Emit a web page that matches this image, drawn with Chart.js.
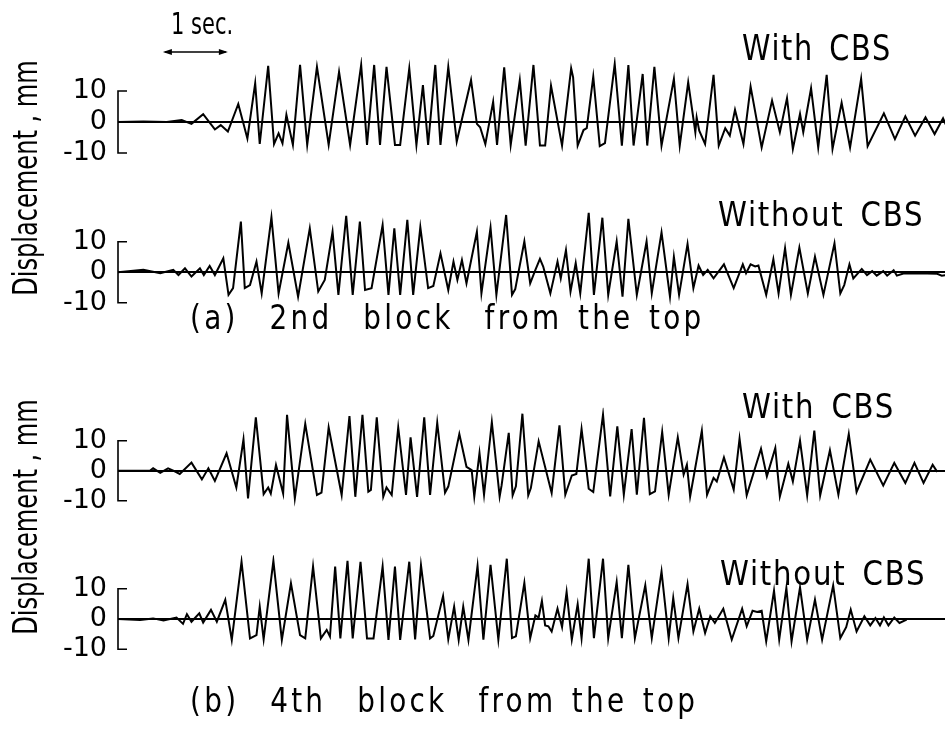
<!DOCTYPE html>
<html>
<head>
<meta charset="utf-8">
<script src="https://cdn.jsdelivr.net/npm/chart.js@4.4.1/dist/chart.umd.min.js"></script>
<style>
 body { margin: 0; background: #fff; }
 #wrap { position: relative; width: 947px; height: 738px; overflow: hidden; background: #fff; }
 #wrap canvas { position: absolute; left: 0; top: 0; }
 .txt {
  position: absolute;
  font-family: "DejaVu Sans", sans-serif;
  color: #000;
  white-space: pre;
  line-height: 1;
  z-index: 5;
  transform-origin: left top;
 }
 .ylab { transform-origin: 50% 50%; transform: translate(-50%, -50%) rotate(-90deg) scaleX(0.73); font-size: 33px; }
 .sec { font-size: 30px; transform: scaleX(0.7); }
 .tag { font-size: 34px; letter-spacing: 2px; word-spacing: 6px; transform: scaleX(0.86); }
 .tag.big { font-size: 36px; transform: scaleX(0.8); }
 .cap { font-size: 34px; letter-spacing: 4px; word-spacing: 4px; transform: scaleX(0.82); }
</style>
</head>
<body>
<div id="wrap">
 <canvas id="c1" width="947" height="738"></canvas>
 <canvas id="c2" width="947" height="738"></canvas>
 <canvas id="c3" width="947" height="738"></canvas>
 <canvas id="c4" width="947" height="738"></canvas>

 <div class="txt sec" style="left:171px; top:9px;">1 sec.</div>
 <div class="txt tag big" style="left:742px; top:30px;">With CBS</div>
 <div class="txt tag" style="left:718px; top:197px;">Without CBS</div>
 <div class="txt tag" style="left:742px; top:389px;">With CBS</div>
 <div class="txt tag" style="left:720px; top:556px;">Without CBS</div>
 <div class="txt cap" style="left:190px; top:300px;">(a)  2nd  block  from the top</div>
 <div class="txt cap" style="left:190px; top:683px;">(b)  4th  block  from the top</div>
 <div class="txt ylab" style="left:25px; top:178px;">Displacement , mm</div>
 <div class="txt ylab" style="left:25px; top:517px;">Displacement , mm</div>
</div>

<script>
// ---- data: time (s) and displacement (mm) ----

// (a) 2nd block, with CBS
var timeA1 = [0, 0.39, 0.75, 0.98, 1.13, 1.31, 1.49, 1.58, 1.69, 1.85, 1.99, 2.11, 2.18, 2.31, 2.40, 2.47, 2.53, 2.59, 2.69, 2.80,
 2.91, 3.06, 3.24, 3.40, 3.57, 3.74, 3.83, 3.94, 4.03, 4.13, 4.26, 4.34, 4.48, 4.59, 4.69, 4.77, 4.88, 4.96, 5.08, 5.21,
 5.43, 5.52, 5.57, 5.65, 5.77, 5.83, 5.94, 6.04, 6.18, 6.27, 6.39, 6.49, 6.57, 6.66, 6.83, 6.97, 7.00, 7.07, 7.16, 7.21,
 7.31, 7.41, 7.49, 7.64, 7.75, 7.85, 7.93, 8.07, 8.14, 8.25, 8.36, 8.55, 8.64, 8.77, 8.88, 8.90, 8.94, 9.03, 9.16, 9.24,
 9.34, 9.41, 9.49, 9.62, 9.73, 9.90, 10.06, 10.18, 10.29, 10.38, 10.49, 10.54, 10.66, 10.77, 10.90, 10.99, 11.13, 11.26, 11.43, 11.53,
 11.78, 11.95, 12.11, 12.26, 12.42, 12.56, 12.69, 12.75];
var dispA1 = [0, 0.2, 0, 0.6, -0.6, 2.5, -2.4, -1.0, -3.1, 5.8, -5.3, 12.5, -7.1, 18.1, -7.1, -3.7, -6.9, 2.3, -7.4, 18.4,
 -7.4, 17.8, -7.4, 16.2, -7.4, 18.4, -7.4, 18.4, -7.4, 17.8, -7.4, -7.4, 17.3, -7.4, 11.9, -7.4, 18.4, -7.4, 17.8, -6.3,
 13.5, -0.6, -1.7, -7.1, 6.5, -7.4, 17.6, -7.4, 13.5, -7.6, 18.4, -7.6, -7.6, 11.7, -7.6, 17.3, 14.4, -7.6, -2.6, -2.0,
 14.6, -7.8, -6.8, 18.7, -7.6, 18.4, -7.6, 15.5, -7.6, 17.8, -7.6, 13.9, -7.6, 12.8, -3.3, 1.5, -2.8, -7.1, 15.2, -7.6,
 -2.0, -4.4, 3.9, -7.1, 11.4, -8.2, 6.9, -3.3, 7.7, -8.7, 2.6, -3.3, 10.9, -8.2, 15.2, -8.7, 6.2, -8.2, 13.9, -7.8,
 2.8, -5.5, 1.8, -4.4, 1.5, -3.9, 1.2, -1.7];

// (a) 2nd block, without CBS
var timeA2 = [0, 0.39, 0.65, 0.85, 0.93, 1.03, 1.13, 1.26, 1.32, 1.41, 1.49, 1.62, 1.70, 1.77, 1.89, 1.95, 2.03, 2.13, 2.21, 2.36,
 2.47, 2.62, 2.77, 2.95, 3.08, 3.18, 3.30, 3.39, 3.51, 3.61, 3.72, 3.80, 3.90, 4.07, 4.16, 4.25, 4.34, 4.45, 4.54, 4.65,
 4.77, 4.85, 4.96, 5.08, 5.16, 5.22, 5.29, 5.36, 5.52, 5.59, 5.73, 5.82, 5.97, 6.06, 6.11, 6.25, 6.34, 6.42, 6.49, 6.54,
 6.65, 6.76, 6.81, 6.89, 6.96, 7.04, 7.11, 7.24, 7.32, 7.45, 7.54, 7.67, 7.76, 7.85, 7.98, 8.13, 8.21, 8.36, 8.49, 8.55,
 8.63, 8.76, 8.85, 8.93, 9.00, 9.07, 9.16, 9.32, 9.47, 9.61, 9.66, 9.73, 9.80, 9.85, 9.97, 10.08, 10.16, 10.26, 10.35, 10.48,
 10.61, 10.72, 10.85, 11.02, 11.11, 11.17, 11.25, 11.31, 11.44, 11.52, 11.60, 11.67, 11.77, 11.83, 11.93, 11.98, 12.08, 12.29, 12.60, 12.67,
 12.75];
var dispA2 = [0, 0.8, -0.3, 0.8, -0.9, 1.3, -1.4, 1.3, -0.9, 2.1, -0.9, 4.6, -7.4, -5.2, 16.6, -5.2, -4.2, 3.5, -6.9, 18.0,
 -6.9, 9.7, -8.0, 14.4, -6.3, -2.5, 13.3, -7.4, 18.5, -7.4, 16.6, -5.8, -5.2, 15.5, -7.4, 14.4, -7.4, 17.2, -7.4, 14.8,
 -5.2, -4.5, 6.2, -5.8, 3.5, -2.5, 4.0, -3.6, 13.3, -6.9, 14.6, -7.4, 18.8, -7.4, -5.5, 10.1, -3.6, 0.8, 4.4, 1.9,
 -6.9, 3.5, -2.0, 7.3, -6.3, 3.0, -6.9, 19.5, -7.4, 17.9, -7.4, 10.1, -8.0, 17.5, -7.4, 10.1, -6.9, 13.1, -8.0, 5.1,
 -7.4, 9.3, -5.2, 2.2, -0.9, 0.8, -2.0, 2.6, -5.2, 2.6, -0.3, 2.6, 1.9, 2.2, -7.4, 4.3, -6.9, 7.9, -7.4, 8.1,
 -6.9, 5.1, -7.4, 9.5, -6.9, -4.2, 2.6, -2.0, 1.1, -0.9, 0.4, -1.1, 0.4, -1.1, 0.7, -1.1, -0.4, -0.3, -0.5, -1.1,
 -0.9];

// (b) 4th block, with CBS
var timeB1 = [0, 0.49, 0.54, 0.65, 0.77, 0.85, 0.95, 1.13, 1.29, 1.39, 1.49, 1.67, 1.82, 1.93, 2.00, 2.12, 2.24, 2.31, 2.35, 2.43,
 2.54, 2.60, 2.72, 2.88, 3.06, 3.13, 3.24, 3.44, 3.56, 3.65, 3.76, 3.85, 3.89, 3.98, 4.08, 4.13, 4.21, 4.31, 4.43, 4.50,
 4.60, 4.71, 4.80, 4.91, 5.03, 5.08, 5.25, 5.36, 5.44, 5.48, 5.56, 5.63, 5.75, 5.87, 5.90, 6.01, 6.07, 6.12, 6.22, 6.31,
 6.35, 6.47, 6.67, 6.79, 6.88, 6.98, 7.05, 7.13, 7.24, 7.31, 7.46, 7.57, 7.68, 7.78, 7.90, 7.98, 8.09, 8.18, 8.26, 8.37,
 8.47, 8.61, 8.70, 8.75, 8.80, 8.98, 9.06, 9.16, 9.21, 9.32, 9.47, 9.56, 9.67, 9.89, 9.98, 10.11, 10.18, 10.31, 10.38, 10.49,
 10.60, 10.71, 10.80, 10.95, 11.08, 11.24, 11.36, 11.57, 11.77, 11.94, 12.11, 12.25, 12.39, 12.53, 12.60];
var dispB1 = [0, 0, 0.8, -0.7, 0.8, 0, -1.1, 2.7, -2.9, 0.8, -3.4, 5.8, -5.6, 10.4, -9.2, 17.8, -7.8, -5.6, -7.6, 1.9,
 -7.6, 18.6, -9.2, 15.6, -8.1, -7.3, 14.4, -8.1, 18.2, -8.7, 18.6, -7.0, -6.4, 17.8, -8.7, -5.6, -8.1, 14.4, -8.1, 11.1,
 -8.7, 17.8, -8.1, 16.0, -7.3, -5.3, 12.2, 1.3, 0.2, -8.6, 5.9, -8.0, 16.2, -8.6, -4.9, 12.6, -8.2, -5.2, 19.0, -8.2,
 -5.8, 9.8, -7.4, 15.1, -8.0, -1.6, -1.1, 13.9, -6.0, -7.1, 18.7, -8.6, 14.8, -8.0, 13.9, -8.0, 17.6, -7.8, -6.9, 12.9,
 -8.0, 11.1, -1.3, 2.0, -8.6, 13.3, -8.0, -2.4, -3.6, 4.4, -6.3, 10.7, -8.2, 7.3, -1.9, 7.6, -8.6, 2.3, -3.6, 10.0,
 -8.2, 13.4, -8.2, 6.8, -8.0, 12.2, -7.1, 3.7, -4.9, 2.6, -4.1, 2.6, -4.1, 2.0, -0.4];

// (b) 4th block, without CBS
var timeB2 = [0, 0.34, 0.54, 0.70, 0.90, 1.00, 1.06, 1.13, 1.25, 1.31, 1.43, 1.52, 1.65, 1.75, 1.90, 2.03, 2.13, 2.18, 2.24, 2.39,
 2.52, 2.66, 2.80, 2.88, 3.00, 3.12, 3.21, 3.26, 3.34, 3.42, 3.53, 3.61, 3.73, 3.83, 3.93, 4.07, 4.16, 4.26, 4.34, 4.48,
 4.57, 4.66, 4.80, 4.85, 5.00, 5.08, 5.17, 5.24, 5.31, 5.39, 5.53, 5.62, 5.73, 5.85, 5.98, 6.06, 6.12, 6.25, 6.34, 6.42,
 6.47, 6.52, 6.57, 6.62, 6.67, 6.76, 6.83, 6.90, 6.98, 7.07, 7.13, 7.24, 7.32, 7.46, 7.54, 7.67, 7.75, 7.85, 7.95, 8.11,
 8.21, 8.36, 8.47, 8.54, 8.62, 8.76, 8.85, 8.94, 9.03, 9.11, 9.18, 9.31, 9.44, 9.60, 9.67, 9.76, 9.83, 9.90, 9.97, 10.09,
 10.17, 10.28, 10.36, 10.49, 10.60, 10.72, 10.83, 11.00, 11.11, 11.20, 11.27, 11.36, 11.48, 11.57, 11.65, 11.72, 11.78, 11.85, 11.94, 12.02,
 12.13];
var dispB2 = [0, -0.3, 0.2, -0.5, 0.5, -1.6, 1.6, -0.9, 1.9, -1.2, 3.0, -0.9, 6.3, -6.9, 18.9, -6.4, -5.3, 4.1, -6.7, 19.2,
 -6.9, 11.8, -5.3, -6.4, 17.3, -6.4, -3.6, -5.8, 17.3, -6.4, 19.2, -6.4, 18.9, -6.4, -6.4, 17.3, -6.9, 17.3, -6.9, 18.9,
 -6.7, 17.8, -6.4, -5.6, 7.6, -6.7, 4.1, -6.9, 4.1, -6.9, 17.5, -6.8, 17.9, -6.8, 19.9, -6.3, -5.7, 11.9, -6.3, 1.2,
 0.5, 6.0, -2.1, -2.4, -4.1, 3.4, -2.7, 8.9, -6.8, 4.9, -6.3, 19.9, -6.3, 19.9, -6.3, 12.2, -6.3, 17.9, -6.3, 11.1,
 -6.3, 15.7, -6.3, 6.9, -6.3, 11.5, -4.1, 3.4, -4.6, 0.9, -1.3, 3.4, -6.8, 3.4, -2.4, 2.7, 2.3, 2.7, -7.4, 9.3,
 -6.8, 10.2, -7.4, 10.4, -6.8, 6.4, -6.8, 11.1, -6.3, -2.7, 3.1, -4.1, 0.9, -2.1, 0.3, -2.1, 0.5, -2.1, 0.5, -1.3,
 -0.2];

var yTicks = [-10, 0, 10];
var timeBar = [0.69, 1.69]; // the "1 sec." arrow

// ---- layout ----
var X_MAX = 12.72;
var Y_MIN = -12;
var Y_MAX = 21;
var AXIS_W = 118;
var CANVAS_H = 738;

var panels = [
 { id: "c1", time: timeA1, disp: dispA1, zero: 122, pxPerMm: 3.1, arrow: true },
 { id: "c2", time: timeA2, disp: dispA2, zero: 272.3, pxPerMm: 3.05 },
 { id: "c3", time: timeB1, disp: dispB1, zero: 470.7, pxPerMm: 3.0 },
 { id: "c4", time: timeB2, disp: dispB2, zero: 619, pxPerMm: 3.03 },
];

// bracket on the left of each trace: [ from -10 to +10
var bracketPlugin = {
 id: "bracket",
 afterDraw: function (chart) {
  var y = chart.scales.y;
  var ctx = chart.ctx;
  var x0 = chart.chartArea.left;
  var top = y.getPixelForValue(10);
  var bot = y.getPixelForValue(-10);
  ctx.save();
  ctx.strokeStyle = "#000";
  ctx.lineWidth = 1.6;
  ctx.beginPath();
  ctx.moveTo(x0 + 9, top);
  ctx.lineTo(x0, top);
  ctx.lineTo(x0, bot);
  ctx.lineTo(x0 + 9, bot);
  ctx.stroke();
  ctx.restore();
 },
};

// double headed arrow showing 1 second
var arrowPlugin = {
 id: "secArrow",
 afterDraw: function (chart) {
  if (!chart.options.plugins.secArrow || !chart.options.plugins.secArrow.show) return;
  var x = chart.scales.x;
  var ctx = chart.ctx;
  var x1 = x.getPixelForValue(timeBar[0]);
  var x2 = x.getPixelForValue(timeBar[1]);
  var yy = chart.chartArea.top - 5;
  ctx.save();
  ctx.strokeStyle = "#000";
  ctx.fillStyle = "#000";
  ctx.lineWidth = 1.5;
  ctx.beginPath();
  ctx.moveTo(x1 + 2, yy);
  ctx.lineTo(x2 - 2, yy);
  ctx.stroke();
  ctx.beginPath();
  ctx.moveTo(x1, yy);
  ctx.lineTo(x1 + 9, yy - 3);
  ctx.lineTo(x1 + 9, yy + 3);
  ctx.closePath();
  ctx.fill();
  ctx.beginPath();
  ctx.moveTo(x2, yy);
  ctx.lineTo(x2 - 9, yy - 3);
  ctx.lineTo(x2 - 9, yy + 3);
  ctx.closePath();
  ctx.fill();
  ctx.restore();
 },
};

function buildPoints(time, disp) {
 return time.map(function (t, i) {
  return { x: t, y: disp[i] };
 });
}

function drawPanel(panel) {
 var canvas = document.getElementById(panel.id);
 var padTop = panel.zero - Y_MAX * panel.pxPerMm;
 var padBottom = CANVAS_H - (panel.zero - Y_MIN * panel.pxPerMm);

 new Chart(canvas, {
  type: "line",
  data: {
   datasets: [
    {
     data: buildPoints(panel.time, panel.disp),
     borderColor: "#000",
     borderWidth: 2,
     pointRadius: 0,
     tension: 0,
     fill: false,
    },
   ],
  },
  options: {
   responsive: false,
   animation: false,
   events: [],
   layout: { padding: { top: padTop, bottom: padBottom, left: 0, right: 2 } },
   plugins: {
    legend: { display: false },
    tooltip: { enabled: false },
    secArrow: { show: !!panel.arrow },
   },
   scales: {
    x: { type: "linear", min: 0, max: X_MAX, display: false },
    y: {
     min: Y_MIN,
     max: Y_MAX,
     afterBuildTicks: function (scale) {
      scale.ticks = yTicks.map(function (v) { return { value: v }; });
     },
     afterFit: function (scale) {
      scale.width = AXIS_W;
     },
     border: { display: false },
     grid: {
      drawTicks: false,
      lineWidth: 2,
      color: function (c) {
       return c.tick && c.tick.value === 0 ? "#000" : "rgba(0,0,0,0)";
      },
     },
     ticks: {
      padding: 11,
      color: "#000",
      font: { family: "DejaVu Sans", size: 27 },
      callback: function (v) { return String(v); },
     },
    },
   },
  },
  plugins: [bracketPlugin, arrowPlugin],
 });
}

panels.forEach(drawPanel);
</script>
</body>
</html>
